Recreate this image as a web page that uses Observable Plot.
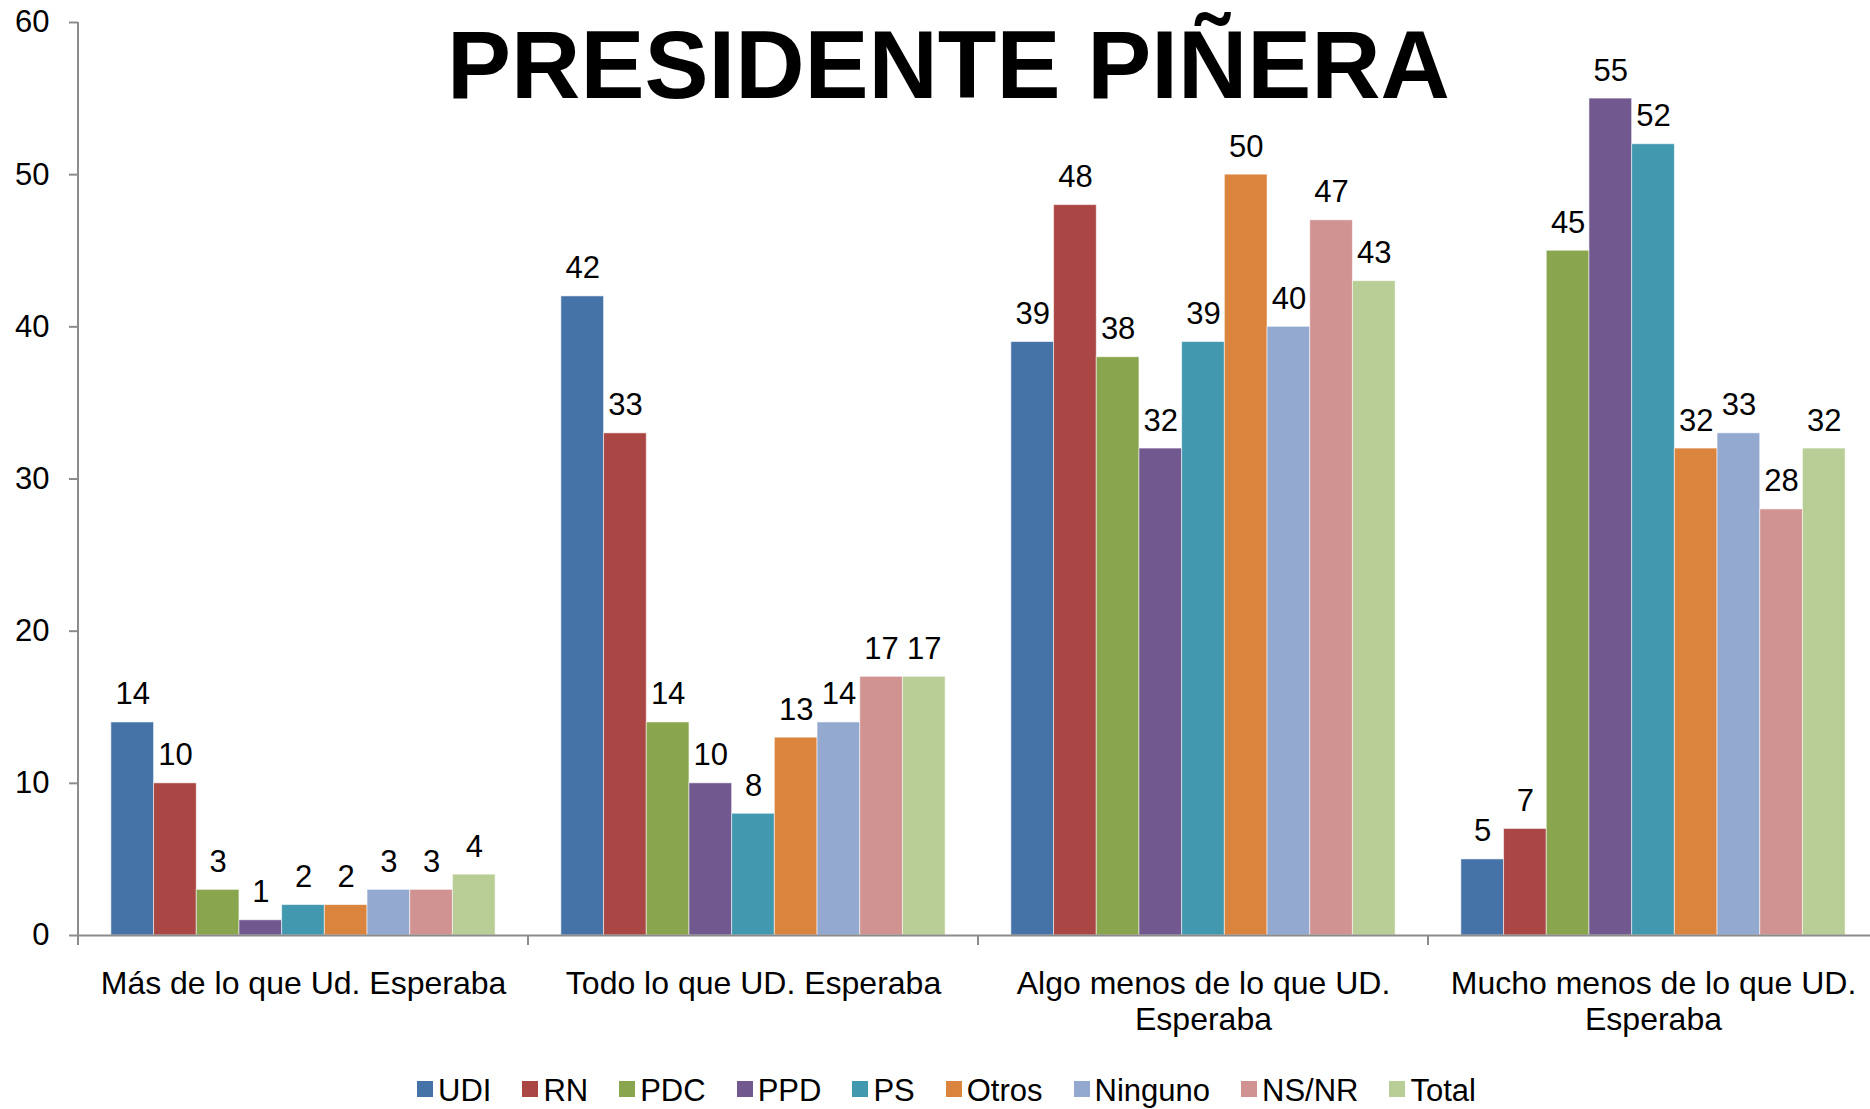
<!DOCTYPE html>
<html>
<head>
<meta charset="utf-8">
<script src="https://cdn.jsdelivr.net/npm/d3@7"></script>
<script src="https://cdn.jsdelivr.net/npm/@observablehq/plot@0.6"></script>
<style>
  html, body { margin: 0; padding: 0; background: #fff; overflow: hidden; }
  #wrap { position: relative; width: 1870px; height: 1109px; overflow: hidden; font-family: "Liberation Sans", Arial, sans-serif; }
  #chart { position: absolute; left: 0; top: 0; width: 1878px; }
  #chart svg { max-width: none !important; }
  #title { position: absolute; left: 0; width: 1897px; top: 17px; text-align: center; font-weight: bold; font-size: 96px; line-height: 96px; color: #000; white-space: nowrap; }
  #legend { position: absolute; left: 417px; top: 1075px; display: flex; align-items: center; font-size: 31px; line-height: 31px; color: #000; white-space: nowrap; }
  .item { display: flex; align-items: center; margin-right: 31px; }
  .sw { width: 16px; height: 16px; margin-right: 5px; position: relative; top: -2px; }
</style>
</head>
<body>
<div id="wrap">
  <div id="chart"></div>
  <div id="title"></div>
  <div id="legend"></div>
</div>
<script>
const title = "PRESIDENTE PIÑERA";
const categories = [
  "Más de lo que Ud. Esperaba",
  "Todo lo que UD. Esperaba",
  "Algo menos de lo que UD. Esperaba",
  "Mucho menos de lo que UD. Esperaba"
];
const categoryLabels = [
  "Más de lo que Ud. Esperaba",
  "Todo lo que UD. Esperaba",
  "Algo menos de lo que UD.\nEsperaba",
  "Mucho menos de lo que UD.\nEsperaba"
];
const series = ["UDI", "RN", "PDC", "PPD", "PS", "Otros", "Ninguno", "NS/NR", "Total"];
const colors = ["#4572A7", "#AA4643", "#89A54E", "#71588F", "#4198AF", "#DB843D", "#93A9CF", "#D19392", "#B9CD96"];
const masDe      = [14, 10, 3, 1, 2, 2, 3, 3, 4];
const todoLo     = [42, 33, 14, 10, 8, 13, 14, 17, 17];
const algoMenos  = [39, 48, 38, 32, 39, 50, 40, 47, 43];
const muchoMenos = [5, 7, 45, 55, 52, 32, 33, 28, 32];
const yTicks = [0, 10, 20, 30, 40, 50, 60];

const rows = [];
[masDe, todoLo, algoMenos, muchoMenos].forEach((vals, i) =>
  vals.forEach((v, j) => rows.push({category: categories[i], party: series[j], value: v}))
);

const axisColor = "#8c8c8c";

const plot = Plot.plot({
  width: 1878,
  height: 1040,
  marginLeft: 78,
  marginRight: 0,
  marginTop: 22,
  marginBottom: 105,
  style: {fontFamily: "'Liberation Sans', Arial, sans-serif", fontSize: "30px", color: "#000", background: "transparent", overflow: "visible", maxWidth: "none"},
  fx: {domain: categories, padding: 0, label: null, round: false},
  x: {domain: series, paddingInner: 0, paddingOuter: 0.77, axis: null, round: false},
  y: {domain: [0, 60], label: null},
  color: {domain: series, range: colors},
  marks: [
    Plot.barY(rows, {fx: "category", x: "party", y: "value", fill: "party", stroke: "#ffffff", strokeOpacity: 0.55, strokeWidth: 1}),
    Plot.text(rows, {fx: "category", x: "party", y: "value", text: d => String(d.value), lineAnchor: "bottom", dy: -18, fontSize: 31, fill: "#000"}),
    Plot.ruleY([0], {stroke: axisColor, strokeWidth: 2}),
    Plot.axisY({ticks: yTicks, tickSize: 9, tickPadding: 20, fontSize: 31, stroke: axisColor, strokeWidth: 2, fill: "#000", label: null, tickFormat: d => String(d)}),
    Plot.axisFx({anchor: "bottom", tickSize: 0, tickPadding: 33, fontSize: 32, lineHeight: 1.12, fill: "#000", label: null,
      tickFormat: d => categoryLabels[categories.indexOf(d)]})
  ]
});

document.getElementById("chart").appendChild(plot);

// axis lines drawn from the plot's own scales
const svg = d3.select(plot);
const ys = plot.scale("y");
const fxs = plot.scale("fx");
const y0 = ys.apply(0), y60 = ys.apply(60);
const xStart = fxs.apply(categories[0]);
svg.append("line")
  .attr("x1", xStart).attr("x2", xStart).attr("y1", y60).attr("y2", y0 + 10)
  .attr("stroke", axisColor).attr("stroke-width", 2);
const bounds = categories.map(c => fxs.apply(c)).concat([fxs.apply(categories[categories.length - 1]) + fxs.bandwidth]);
bounds.forEach(b => {
  svg.append("line")
    .attr("x1", b).attr("x2", b).attr("y1", y0).attr("y2", y0 + 10)
    .attr("stroke", axisColor).attr("stroke-width", 2);
});

document.getElementById("title").textContent = title;

const legend = document.getElementById("legend");
series.forEach((s, i) => {
  const item = document.createElement("div");
  item.className = "item";
  const sw = document.createElement("span");
  sw.className = "sw";
  sw.style.background = colors[i];
  const t = document.createElement("span");
  t.textContent = s;
  item.appendChild(sw);
  item.appendChild(t);
  legend.appendChild(item);
});
</script>
</body>
</html>
